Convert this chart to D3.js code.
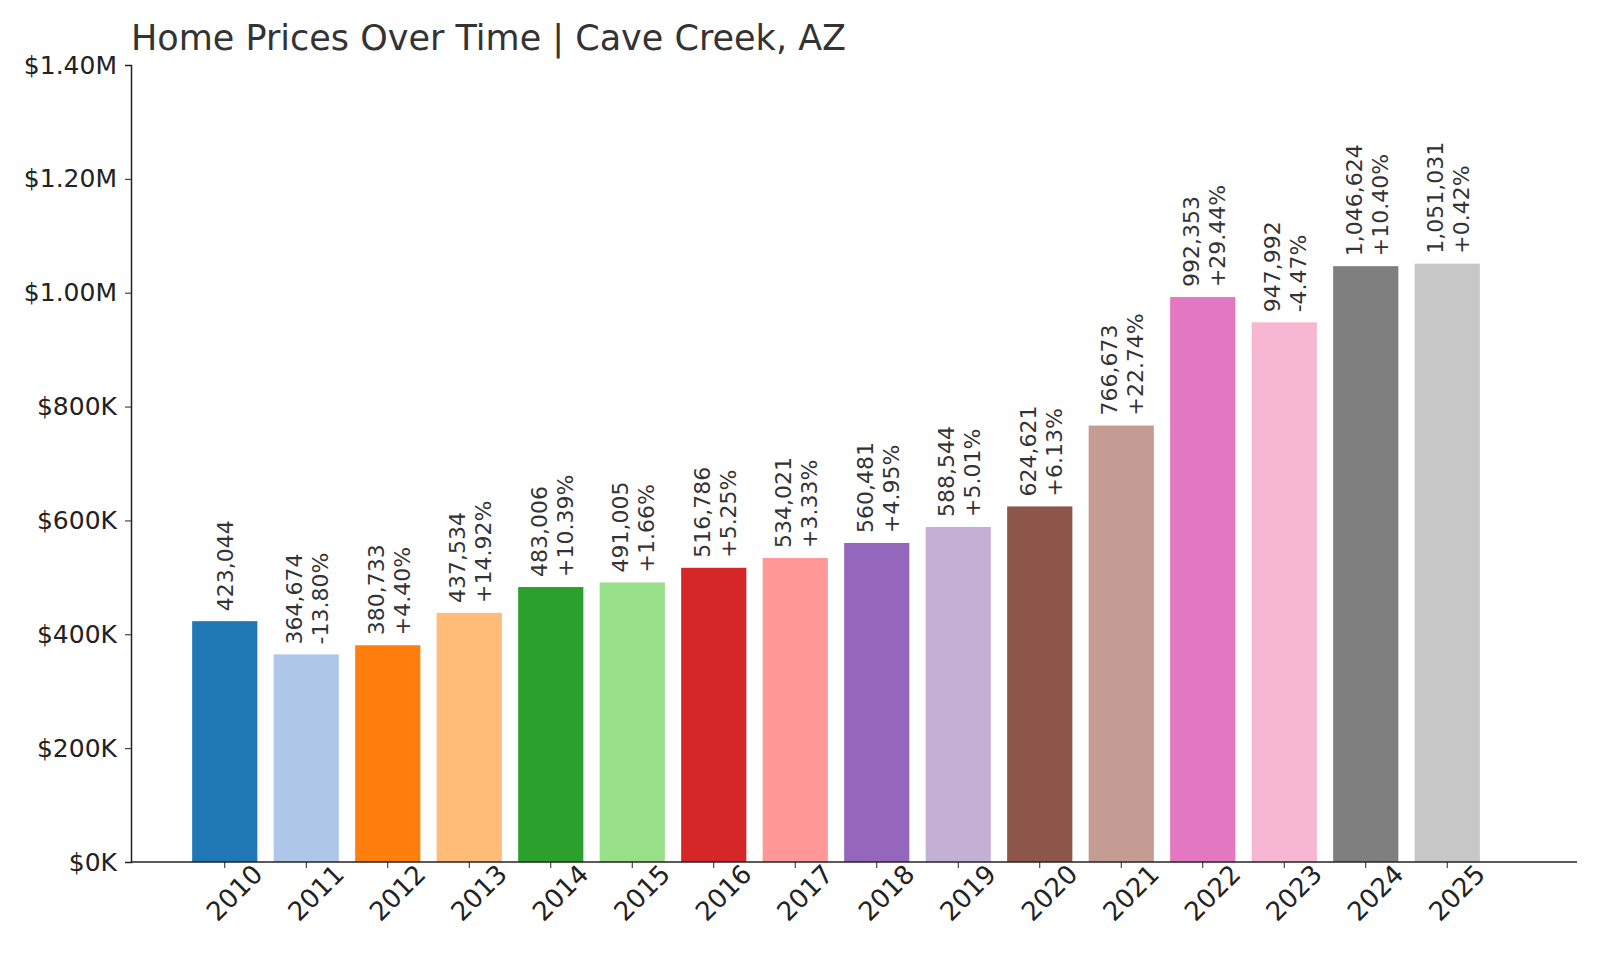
<!DOCTYPE html>
<html><head><meta charset="utf-8">
<script src="https://cdn.jsdelivr.net/npm/d3@7"></script>
<style>body{margin:0;background:#fff;font-family:"DejaVu Sans",sans-serif;}</style>
</head><body><svg id="chart" width="1600" height="960"></svg>
<script>
var years = ["2010","2011","2012","2013","2014","2015","2016","2017","2018","2019","2020","2021","2022","2023","2024","2025"];
var prices = [423044,364674,380733,437534,483006,491005,516786,534021,560481,588544,624621,766673,992353,947992,1046624,1051031];
var changes = [null,"-13.80%","+4.40%","+14.92%","+10.39%","+1.66%","+5.25%","+3.33%","+4.95%","+5.01%","+6.13%","+22.74%","+29.44%","-4.47%","+10.40%","+0.42%"];
var colors = ["#1f77b4","#aec7e8","#ff7f0e","#ffbb78","#2ca02c","#98df8a","#d62728","#ff9896","#9467bd","#c5b0d5","#8c564b","#c49c94","#e377c2","#f7b6d2","#7f7f7f","#c7c7c7"];
var yTicks = [0,200000,400000,600000,800000,1000000,1200000,1400000];

var svg = d3.select("#chart");
var x = d3.scaleBand().domain(years).range([184,1488]).paddingInner(0.2).paddingOuter(0.1);
var y = d3.scaleLinear().domain([0,1400000]).range([862,65]);

function fmtY(v) { return v >= 1000000 ? "$" + (v/1e6).toFixed(2) + "M" : "$" + (v/1000) + "K"; }

svg.selectAll(".bar").data(prices).enter().append("rect")
    .attr("x", function(d,i){ return x(years[i]) })
    .attr("width", x.bandwidth())
    .attr("y", function(d){ return y(d) })
    .attr("height", function(d){ return y(0) - y(d) })
    .attr("fill", function(d,i){ return colors[i] });

// value + change labels, rotated
prices.forEach(function(d,i){
    var cx = x(years[i]) + x.bandwidth()/2, top = y(d) - 10;
    var g = svg.append("g").attr("transform","translate(" + cx + "," + top + ") rotate(-90)")
        .style("font-size","22px").attr("fill","#333");
    if (changes[i]) {
        g.append("text").attr("x",0).attr("y",-4).text(d3.format(",")(d));
        g.append("text").attr("x",0).attr("y",22).text(changes[i]);
    } else {
        g.append("text").attr("x",0).attr("y",8).text(d3.format(",")(d));
    }
});

var yAxis = svg.append("g").attr("transform","translate(131,0)")
    .call(d3.axisLeft(y).tickValues(yTicks).tickFormat(fmtY).tickSize(6).tickPadding(8));
yAxis.selectAll("text").style("font-size","25px").attr("fill","#222").attr("font-family","DejaVu Sans");
yAxis.select(".domain").attr("stroke","#222").attr("stroke-width",1.5);
yAxis.selectAll(".tick line").attr("stroke","#222");

var xAxis = svg.append("g").attr("transform","translate(0,862)")
    .call(d3.axisBottom(x).tickSize(6));
xAxis.select(".domain").attr("d","M131,0H1577").attr("stroke","#222").attr("stroke-width",1.5);
xAxis.selectAll(".tick line").attr("stroke","#222");
xAxis.selectAll("text").style("font-size","26px").attr("fill","#222").attr("font-family","DejaVu Sans")
    .attr("text-anchor","end").attr("dx","0.7em").attr("dy","1.1em")
    .attr("transform","rotate(-45)");

svg.append("text").attr("x",131).attr("y",50).text("Home Prices Over Time | Cave Creek, AZ")
    .style("font-size","35px").attr("fill","#333");
</script></body></html>
